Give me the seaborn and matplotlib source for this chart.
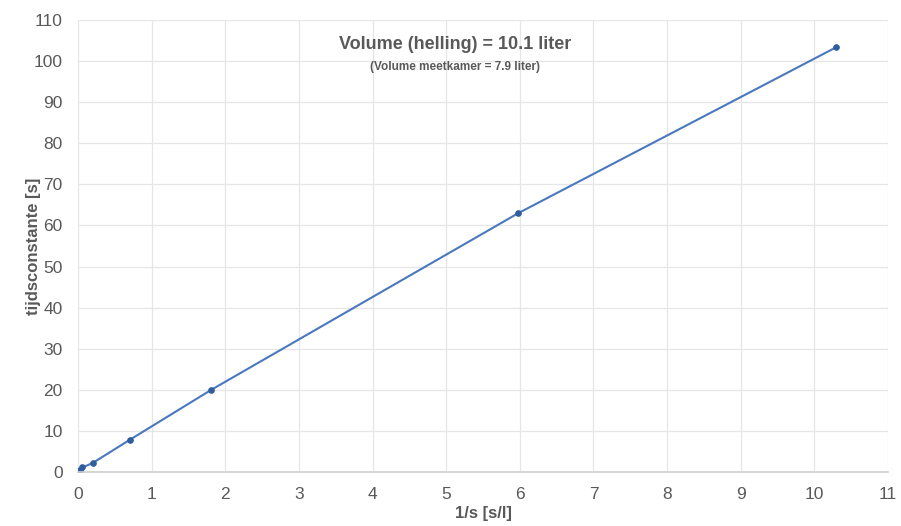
import matplotlib
matplotlib.use("Agg")
import matplotlib.pyplot as plt
import seaborn as sns
import pandas as pd

inv_s = [0.01, 0.03, 0.06, 0.2, 0.7, 1.81, 5.98, 10.3]
tau = [0.3, 0.6, 1.1, 2.2, 7.8, 20.0, 63.0, 103.4]
x_ticks = list(range(0, 12))
y_ticks = list(range(0, 111, 10))

sns.set_theme(style="whitegrid")
plt.rcParams['font.family'] = ['Liberation Sans', 'DejaVu Sans']

df = pd.DataFrame({"x": inv_s, "y": tau})
fig = plt.figure(figsize=(9.01, 5.26), dpi=100)
ax = fig.add_axes([0.0866, 0.1027, 0.8990, 0.8593])
sns.lineplot(data=df, x="x", y="y", ax=ax, color="#4a78be", linewidth=1.5,
             marker="o", markersize=4, markerfacecolor="#2f5d9e",
             markeredgecolor="#2f5d9e")
ax.set_xlim(0, 11)
ax.set_ylim(0, 110)
ax.set_xticks(x_ticks)
ax.set_yticks(y_ticks)
ax.grid(True, color="#e6e6e6", linewidth=0.9)
for s in ["top", "right", "left"]:
    ax.spines[s].set_visible(False)
ax.spines["bottom"].set_color("#d0d0d0")
ax.tick_params(axis="x", labelsize=12.5, colors="#595959", length=0, pad=11)
ax.tick_params(axis="y", labelsize=12.5, colors="#595959", length=0, pad=11)
ax.set_xlabel("1/s [s/l]", fontsize=12, fontweight="bold", color="#595959", labelpad=3)
ax.set_ylabel("tijdsconstante [s]", fontsize=12, fontweight="bold", color="#595959", labelpad=-5)
ax.text(0.465, 0.945, "Volume (helling) = 10.1 liter", transform=ax.transAxes,
        ha="center", va="center", fontsize=13, fontweight="bold", color="#595959")
ax.text(0.465, 0.897, "(Volume meetkamer = 7.9 liter)", transform=ax.transAxes,
        ha="center", va="center", fontsize=8.5, fontweight="bold", color="#595959")
fig.savefig("out.png", dpi=100)
